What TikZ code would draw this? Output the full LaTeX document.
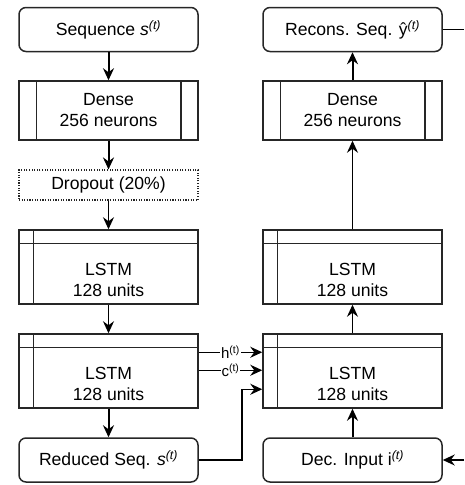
\documentclass[tikz,border=0pt]{standalone}
\usepackage{fontspec}
\setmainfont{Liberation Sans}
\usetikzlibrary{arrows.meta,calc}
\begin{document}
\begin{tikzpicture}[x=1pt,y=-1pt,
  font=\fontsize{17.6}{21}\selectfont,
  block/.style={draw=black!85, line width=1.5pt, minimum width=179pt, inner sep=0pt, align=center},
  rbox/.style={block, rounded corners=7pt, minimum height=44pt},
  densebox/.style={block, minimum height=59pt},
  dropbox/.style={block, minimum height=30pt, line width=1.1pt, dash pattern=on 1.1pt off 1.5pt},
  lstmbox/.style={block, minimum height=74pt},
  divider/.style={draw=black!85, line width=1.5pt},
  tip/.style={-{Stealth[length=12pt,width=11pt,inset=4pt]}},
  heavy/.style={tip, line width=2pt},
  light/.style={tip, line width=1.4pt},
  wire/.style={line width=1.4pt},
  statelab/.style={fill=white, inner sep=1pt, font=\fontsize{15}{17}\selectfont}
]
\useasboundingbox (0,0) rectangle (464,485);

% encoder column
\node[rbox]     (seq)   at (108.5,29.5) {Sequence \textit{s}\textsuperscript{\textit{(t)}}};
\node[densebox] (dense1) at (108.5,110.5) {Dense\\256 neurons};
\node[dropbox]  (drop)  at (108.5,185) {Dropout (20\%)};
\node[lstmbox]  (lstm1) at (108.5,267) {};
\node[lstmbox]  (lstm2) at (108.5,371) {};
\node[rbox]     (red)   at (108.5,460) {Reduced Seq. \textit{s}\textsuperscript{\textit{(t)}}};

% decoder column
\node[rbox]     (rec)    at (352.5,29.5) {Recons. Seq. ŷ\textsuperscript{\textit{(t)}}};
\node[densebox] (dense2) at (352.5,110.5) {Dense\\256 neurons};
\node[lstmbox]  (rlstm1) at (352.5,267) {};
\node[lstmbox]  (rlstm2) at (352.5,371) {};
\node[rbox]     (dec)    at (352.5,460) {Dec. Input i\textsuperscript{\textit{(t)}}};

% captions and inner bars of the LSTM layers
\foreach \n in {lstm1,lstm2,rlstm1,rlstm2}{
  \node[align=center] (\n txt) at ([yshift=-13pt]\n.center) {LSTM\\128 units};
  \draw[divider] ([yshift=-14pt]\n.north west) -- ([yshift=-14pt]\n.north east);
  \draw[divider] ([xshift=15pt]\n.north west) -- ([xshift=15pt]\n.south west);
}

% side bars of the dense layers
\foreach \n in {dense1,dense2}{
  \draw[divider] ([xshift=18pt]\n.north west) -- ([xshift=18pt]\n.south west);
  \draw[divider] ([xshift=-18pt]\n.north east) -- ([xshift=-18pt]\n.south east);
}

% encoder flow
\draw[heavy] (seq) -- (dense1);
\draw[heavy] (dense1) -- (drop);
\draw[light] (drop) -- (lstm1);
\draw[light] (lstm1) -- (lstm2);
\draw[heavy] (lstm2) -- (red);

% decoder flow
\draw[heavy] (dec) -- (rlstm2);
\draw[light] (rlstm2) -- (rlstm1);
\draw[light] (rlstm1) -- (dense2);
\draw[heavy] (dense2) -- (rec);

% states handed from encoder to decoder
\draw[light] ([yshift=-19pt]lstm2.north east) -- node[statelab] (hlab) {h\textsuperscript{(t)}} ([yshift=-19pt]rlstm2.north west);
\draw[light] ([yshift=-37pt]lstm2.north east) -- node[statelab] (clab) {c\textsuperscript{(t)}} ([yshift=-37pt]rlstm2.north west);
\coordinate (bend) at (242,0);
\draw[light] (red.east) -- (bend |- red.east) |- ([yshift=-56pt]rlstm2.north west);

% output and feedback at the right border
\coordinate (outR) at (464,29.5);
\coordinate (inR) at (464,460);
\draw[wire] (rec.east) -- (outR);
\draw[light] (inR) -- (dec.east);
\end{tikzpicture}
\end{document}
